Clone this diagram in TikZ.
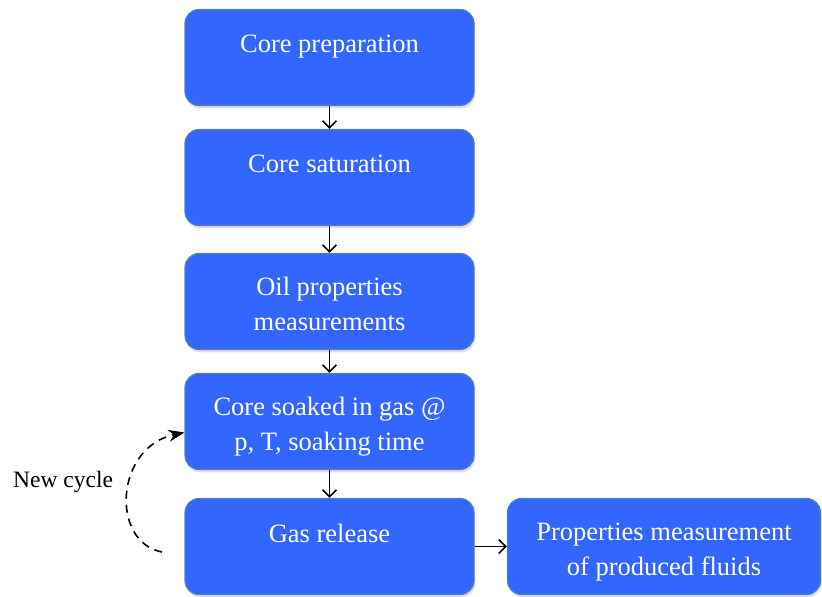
\documentclass[tikz,border=0pt]{standalone}
\usepackage{fontspec}
\setmainfont{Liberation Serif}
\newfontfamily\tnr{Liberation Serif}
\usetikzlibrary{arrows.meta,shadows}
\definecolor{boxfill}{HTML}{3366FF}
\definecolor{boxline}{HTML}{4F7FC0}
\newcommand{\twoline}[2]{\raisebox{-10.6pt}[0pt][0pt]{\begin{tabular}{@{}c@{}}#1\\#2\end{tabular}}}
\newcommand{\oneline}[1]{\raisebox{27pt}{#1}}
\begin{document}
\begin{tikzpicture}[x=1pt,y=1pt,
  stepbox/.style={draw=boxline, line width=1.2pt, fill=boxfill, rounded corners=14pt,
    minimum width=289pt, minimum height=96pt, inner sep=0pt,
    text=white, font=\tnr\fontsize{26.5}{35.5}\selectfont,
    drop shadow={shadow xshift=1pt, shadow yshift=-3pt, opacity=0.25}},
  flow/.style={-{Straight Barb[length=7pt,width=14pt,line width=1.6pt]}, line width=1.6pt},
  loop/.style={-{Stealth[length=16pt,width=12pt]}, line width=1.6pt, dash pattern=on 8pt off 6pt}]
\useasboundingbox (0,0) rectangle (822,597);
\node[stepbox] (b1) at (329.5,539.5) {\oneline{Core preparation}};
\node[stepbox] (b2) at (329.5,419.5) {\oneline{Core saturation}};
\node[stepbox] (b3) at (329.5,295.5) {\twoline{Oil properties}{measurements}};
\node[stepbox] (b4) at (329.5,175.5) {\twoline{Core soaked in gas @}{p, T, soaking time}};
\node[stepbox] (b5) at (329.5,50.5) {\oneline{Gas release}};
\node[stepbox, minimum width=313pt] (b6) at (664,50.5) {\twoline{Properties measurement}{of produced fluids}};
\draw[flow] (b1) -- (b2);
\draw[flow] (b2) -- (b3);
\draw[flow] (b3) -- (b4);
\draw[flow] (b4) -- (b5);
\draw[flow] (b5) -- (b6);
\coordinate (ls) at (162,45);
\draw[loop] (ls) .. controls (110,55) and (115,150) .. ([yshift=-11pt]b4.west);
\node[font=\tnr\fontsize{23.5}{28}\selectfont, anchor=west, inner sep=0pt] (nc) at (13,115) {New cycle};
\end{tikzpicture}
\end{document}
